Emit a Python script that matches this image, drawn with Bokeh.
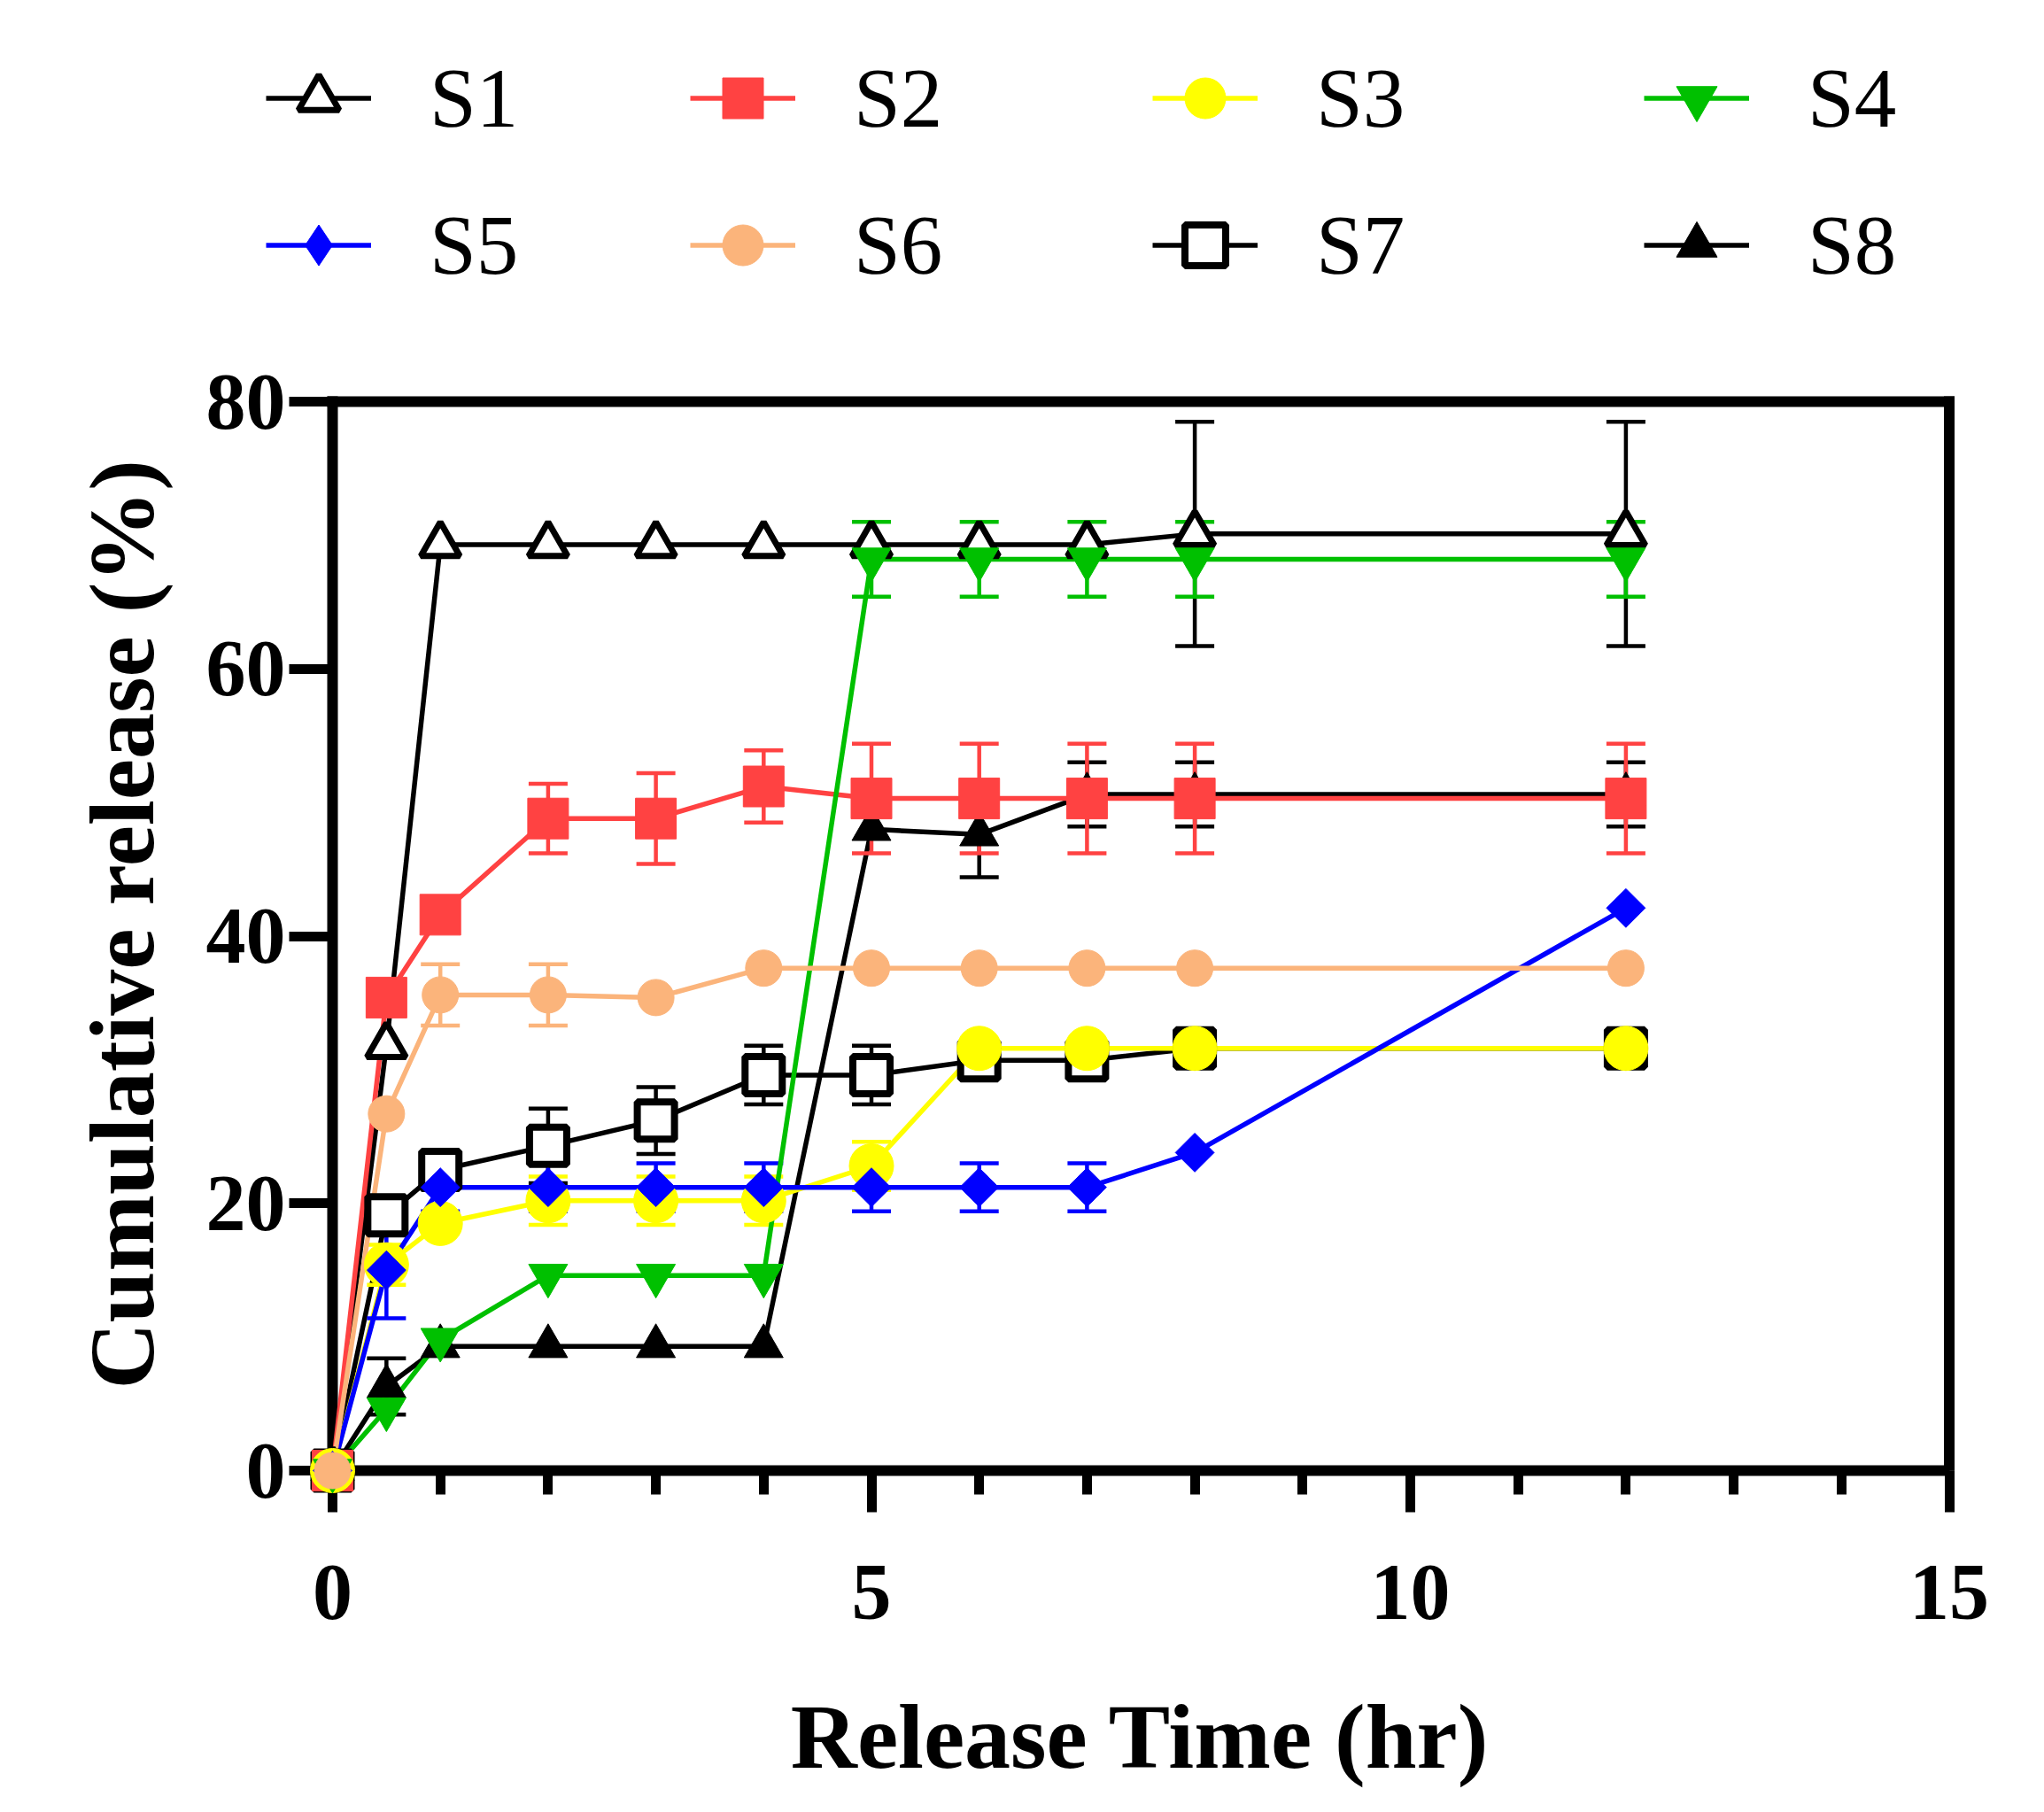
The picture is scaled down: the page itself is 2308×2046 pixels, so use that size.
from bokeh.plotting import figure
from bokeh.models import Range1d, SingleIntervalTicker, Legend, LegendItem, ColumnDataSource, Title
from bokeh.embed import file_html
from bokeh.resources import INLINE
import numpy as np

# Release data (time in hr, cumulative release in %)
time_hr = [0, 0.5, 1, 2, 3, 4, 5, 6, 7, 8, 12]

s1 = [0, 31.8, 69.3, 69.3, 69.3, 69.3, 69.3, 69.3, 69.3, 70.1, 70.1]
s1_err = [0, 0, 0, 0, 0, 0, 0, 0, 0, 8.4, 8.4]
s2 = [0, 35.4, 41.6, 48.8, 48.8, 51.2, 50.3, 50.3, 50.3, 50.3, 50.3]
s2_err = [0, 0, 0, 2.6, 3.4, 2.7, 4.1, 4.1, 4.1, 4.1, 4.1]
s3 = [0, 15.4, 18.5, 20.2, 20.2, 20.2, 22.8, 31.6, 31.6, 31.6, 31.6]
s3_err = [0, 1.5, 0, 1.8, 1.8, 1.8, 1.8, 0, 0, 0, 0]
s4 = [0, 4.6, 9.8, 14.6, 14.6, 14.6, 68.2, 68.2, 68.2, 68.2, 68.2]
s4_err = [0, 0, 0, 0, 0, 0, 2.8, 2.8, 2.8, 2.8, 2.8]
s5 = [0, 15.0, 21.2, 21.2, 21.2, 21.2, 21.2, 21.2, 21.2, 23.8, 42.1]
s5_err = [0, 3.6, 1.8, 1.8, 1.8, 1.8, 1.8, 1.8, 1.8, 0, 0]
s6 = [0, 26.7, 35.6, 35.6, 35.4, 37.6, 37.6, 37.6, 37.6, 37.6, 37.6]
s6_err = [0, 0, 2.3, 2.3, 0, 0, 0, 0, 0, 0, 0]
s7 = [0, 19.1, 22.5, 24.3, 26.2, 29.6, 29.6, 30.7, 30.7, 31.6, 31.6]
s7_err = [0, 1.2, 1.0, 2.8, 2.5, 2.2, 2.2, 0, 0, 0, 0]
s8 = [0, 6.3, 9.3, 9.3, 9.3, 9.3, 48.0, 47.6, 50.6, 50.6, 50.6]
s8_err = [0, 2.1, 0, 0, 0, 0, 0, 3.2, 2.4, 2.4, 2.4]

x_max = 15
y_max = 80

# values, errors, colour, marker, fill, size, outline width, angle
styles = {
    "S1": (s1, s1_err, "black", "triangle", "white", 44, 7, 0),
    "S2": (s2, s2_err, "#FF4242", "square", "#FF4242", 46, 1, 0),
    "S3": (s3, s3_err, "#FFFF00", "circle", "#FFFF00", 50, 1, 0),
    "S4": (s4, s4_err, "#00C000", "inverted_triangle", "#00C000", 44, 1, 0),
    "S5": (s5, s5_err, "#0000FF", "square", "#0000FF", 31, 1, np.pi / 4),
    "S6": (s6, s6_err, "#FBB47B", "circle", "#FBB47B", 41, 1, 0),
    "S7": (s7, s7_err, "black", "square", "white", 42, 8, 0),
    "S8": (s8, s8_err, "black", "triangle", "black", 44, 1, 0),
}
draw_order = ["S1", "S8", "S7", "S2", "S3", "S5", "S4", "S6"]

# page geometry (px): the frame also holds the legend rows above the axes box
W, H = 2290, 2030
frame_left, frame_right, frame_top, frame_bottom = 300, 2274, 40, 1660
x0_px, xmax_px, ymax_px = 375, 2200.5, 453
px_x = (xmax_px - x0_px) / x_max
px_y = (frame_bottom - ymax_px) / y_max

p = figure(
    width=W,
    height=H,
    x_range=Range1d(-(x0_px - frame_left) / px_x, x_max + (frame_right - xmax_px) / px_x),
    y_range=Range1d(0, y_max + (ymax_px - frame_top) / px_y),
    min_border_left=frame_left,
    min_border_right=W - frame_right,
    min_border_top=frame_top,
    min_border_bottom=H - frame_bottom,
    output_backend="svg",
    toolbar_location=None,
    x_axis_label="Release Time (hr)",
)
p.xgrid.visible = False
p.ygrid.visible = False
p.outline_line_color = None

# left, top and right edges of the axes box
p.segment([0, 0, x_max], [0, y_max, 0], [0, x_max, x_max], [y_max, y_max, y_max],
          line_color="black", line_width=12, line_cap="square")

lines = {}
marks = {}
for name in draw_order:
    vals, errs, color, marker, fill, size, lw, ang = styles[name]
    xs = [t for t, e in zip(time_hr, errs) if e > 0]
    lo = [v - e for v, e in zip(vals, errs) if e > 0]
    hi = [v + e for v, e in zip(vals, errs) if e > 0]
    if xs:
        eb = ColumnDataSource(dict(x=xs, lo=lo, hi=hi))
        p.segment("x", "lo", "x", "hi", source=eb, line_color=color, line_width=4.5)
        p.scatter("x", "lo", source=eb, marker="dash", size=44, line_color=color, line_width=4.5)
        p.scatter("x", "hi", source=eb, marker="dash", size=44, line_color=color, line_width=4.5)
    lines[name] = p.line(time_hr, vals, line_color=color, line_width=5.5)

for name in draw_order:
    vals, errs, color, marker, fill, size, lw, ang = styles[name]
    if name == "S5":
        # plain diamond under the turned square, used for the legend key
        marks[name] = p.scatter(time_hr, vals, marker="diamond", size=30,
                                fill_color=fill, line_color=color, level="overlay")
        p.scatter(time_hr, vals, marker=marker, size=size, angle=ang,
                  fill_color=fill, line_color=color, line_width=lw, level="overlay")
    else:
        marks[name] = p.scatter(time_hr, vals, marker=marker, size=size, angle=ang,
                                fill_color=fill, line_color=color, line_width=lw,
                                level="overlay")

# axes
p.xaxis.ticker = SingleIntervalTicker(interval=5, num_minor_ticks=5)
p.yaxis.ticker = SingleIntervalTicker(interval=20, num_minor_ticks=0)
p.xaxis.bounds = (0, x_max)
p.yaxis.bounds = (0, y_max)
for ax in (p.xaxis, p.yaxis):
    ax.axis_line_width = 12
    ax.axis_line_color = "black"
    ax.major_tick_in = 0
    ax.minor_tick_in = 0
    ax.major_tick_line_width = 11
    ax.minor_tick_line_width = 11
    ax.major_label_text_font = "Liberation Serif"
    ax.major_label_text_font_style = "bold"
    ax.major_label_text_font_size = "90px"
    ax.major_label_text_color = "black"
    ax.axis_label_text_font = "Liberation Serif"
    ax.axis_label_text_font_style = "bold"
    ax.axis_label_text_font_size = "104px"
    ax.axis_label_text_color = "black"
p.xaxis.major_tick_out = 47
p.xaxis.minor_tick_out = 27
p.xaxis.major_label_standoff = 60
p.xaxis.axis_label_standoff = 72
# y axis sits on the frame edge; its ticks reach across to x = 0
p.yaxis.axis_line_color = None
p.yaxis.major_tick_out = -26
p.yaxis.major_tick_in = x0_px - frame_left
p.yaxis.major_label_standoff = -22

p.add_layout(Title(
    text="Cumulative release (%)",
    align="left",
    offset=92,
    standoff=69,
    text_font="Liberation Serif",
    text_font_style="bold",
    text_font_size="104px",
    text_color="black",
), "left")

# legend: four columns of two entries above the axes box
legend_columns = [("S1", "S5"), ("S2", "S6"), ("S3", "S7"), ("S4", "S8")]
legend_x = [0, 479, 1001, 1556]
for (top, bottom), lx in zip(legend_columns, legend_x):
    items = [LegendItem(label=n, renderers=[lines[n], marks[n]]) for n in (top, bottom)]
    p.add_layout(Legend(
        items=items,
        location=(lx, frame_bottom - 334),
        orientation="vertical",
        glyph_width=119,
        glyph_height=115,
        label_height=100,
        label_standoff=66,
        spacing=51,
        padding=0,
        margin=0,
        border_line_color=None,
        background_fill_alpha=0,
        label_text_font="Liberation Serif",
        label_text_font_size="95px",
        label_text_color="black",
    ))

open("out.html", "w").write(file_html(p, INLINE))
